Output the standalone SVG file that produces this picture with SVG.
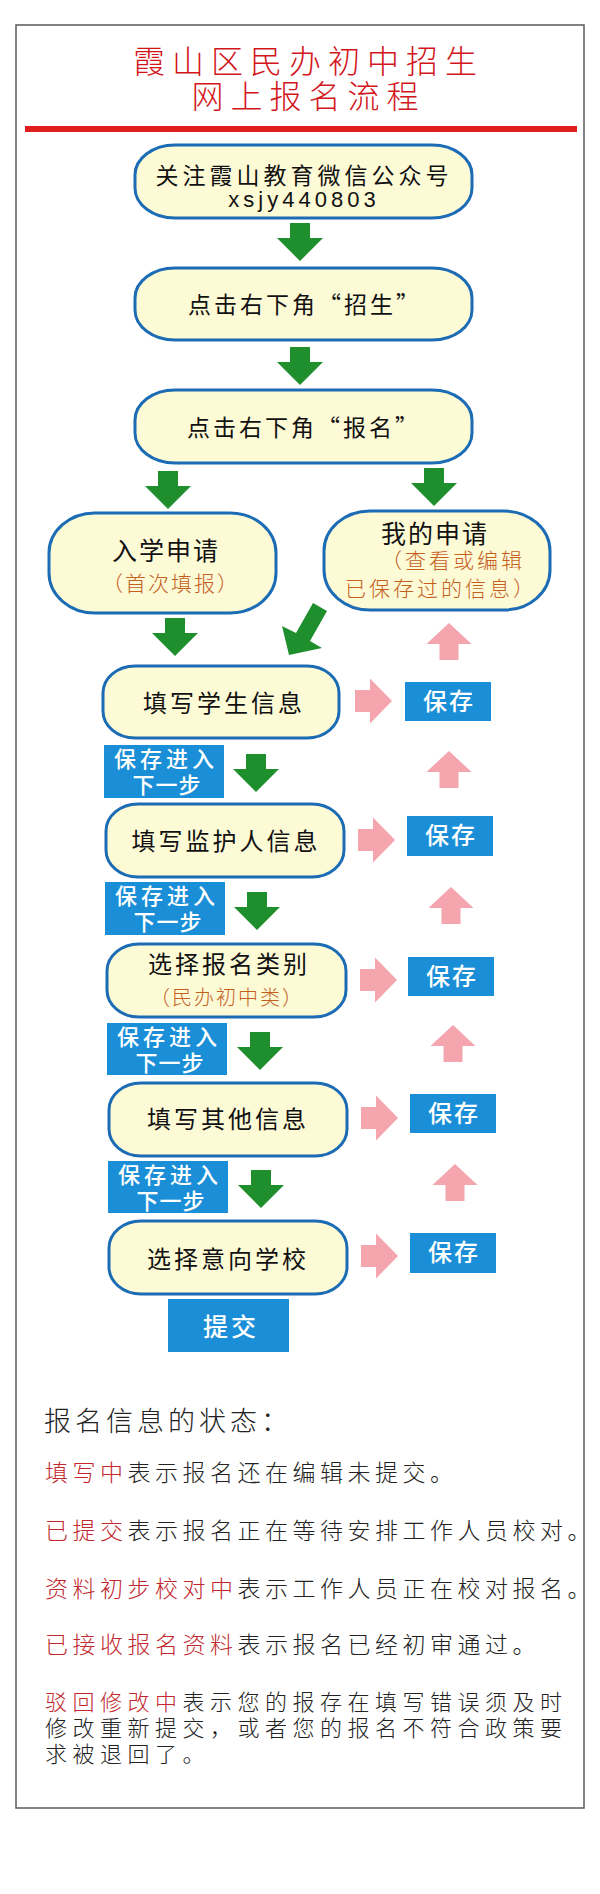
<svg xmlns="http://www.w3.org/2000/svg" xmlns:xlink="http://www.w3.org/1999/xlink" width="600" height="1894" viewBox="0 0 600 1894">
<style>
text{font-family:"Noto Sans CJK SC","Noto Sans",sans-serif}
.node{fill:#fdfad6;stroke:#1b6cb4;stroke-width:3}
.nt{font-size:24px;fill:#111;letter-spacing:3px;text-anchor:middle}
.sub{font-size:21px;fill:#c4601f;letter-spacing:2px;text-anchor:middle;font-weight:300}
.blue{fill:#1a8fd8}
.bt{font-size:24px;fill:#fff;letter-spacing:2px;text-anchor:middle;font-weight:500}
.nx{font-size:22px;fill:#fff;letter-spacing:4px;text-anchor:middle;font-weight:500}
.green{fill:#1f8f2e}
.pink{fill:#f4a5ae}
.st{font-size:23px;fill:#222;letter-spacing:4.5px;font-weight:300}
.st2{font-size:22px;fill:#222;letter-spacing:5.5px;font-weight:300}
.red{fill:#c1272d}
.title{font-size:32px;fill:#d2161c;letter-spacing:7px;text-anchor:middle;font-weight:300}
</style>
<defs>
<path id="gdown" d="M-10,0 H10 V15 H23 L0,38 L-23,15 H-10 Z"/>
<path id="pup" d="M0,0 L22.5,21 H9.5 V37 H-9.5 V21 H-22.5 Z"/>
<path id="pright" d="M0,-11 H15 V-22.5 L37,0 L15,22.5 V11 H0 Z"/>
</defs>
<rect x="0" y="0" width="600" height="1894" fill="#fff"/>
<rect x="16" y="25" width="568" height="1783" fill="#fff" stroke="#5a5a5a" stroke-width="1.5"/>
<g id="title">
<text class="title" x="308.5" y="73">霞山区民办初中招生</text>
<text class="title" x="308.5" y="108">网上报名流程</text>
<rect x="25" y="126" width="552" height="6" fill="#e01e1e"/>
</g>
<g id="connectors">
<use xlink:href="#gdown" class="green" x="300" y="223"/>
<use xlink:href="#gdown" class="green" x="300" y="347"/>
<use xlink:href="#gdown" class="green" x="168" y="471"/>
<use xlink:href="#gdown" class="green" x="434" y="468"/>
<use xlink:href="#gdown" class="green" x="175" y="618"/>
<polygon class="green" points="313,603 327,611 310,641 322,648 289,655 282,626 296,633"/>
<use xlink:href="#gdown" class="green" x="256" y="754"/>
<use xlink:href="#gdown" class="green" x="257" y="892"/>
<use xlink:href="#gdown" class="green" x="260" y="1032"/>
<use xlink:href="#gdown" class="green" x="261" y="1170"/>
<use xlink:href="#pup" class="pink" x="449" y="623"/>
<use xlink:href="#pup" class="pink" x="449" y="751"/>
<use xlink:href="#pup" class="pink" x="451" y="887"/>
<use xlink:href="#pup" class="pink" x="453" y="1025"/>
<use xlink:href="#pup" class="pink" x="455" y="1164"/>
<use xlink:href="#pright" class="pink" x="355" y="701"/>
<use xlink:href="#pright" class="pink" x="358" y="840"/>
<use xlink:href="#pright" class="pink" x="360" y="980"/>
<use xlink:href="#pright" class="pink" x="361" y="1118"/>
<use xlink:href="#pright" class="pink" x="361" y="1256"/>
</g>
<g id="n1">
<rect class="node" x="135" y="145" width="337" height="73" rx="40" ry="30"/>
<text class="nt" x="304" y="184" style="font-size:23px;letter-spacing:4px">关注霞山教育微信公众号</text>
<text x="304" y="207" style="font-family:'Liberation Sans',Arial,sans-serif;font-size:22px;letter-spacing:4px;text-anchor:middle;fill:#111">xsjy440803</text>
</g>
<g id="n2">
<rect class="node" x="135" y="268" width="337" height="72" rx="40" ry="30"/>
<text class="nt" x="305" y="313" style="font-size:23px">点击右下角“招生”</text>
</g>
<g id="n3">
<rect class="node" x="135" y="390" width="337" height="73" rx="40" ry="30"/>
<text class="nt" x="304" y="436" style="font-size:23px">点击右下角“报名”</text>
</g>
<g id="n4">
<rect class="node" x="49" y="513" width="227" height="100" rx="46" ry="40"/>
<text class="nt" x="166" y="560" style="font-size:25px;letter-spacing:2px">入学申请</text>
<text class="sub" x="171" y="591">（首次填报）</text>
</g>
<g id="n5">
<rect class="node" x="324" y="511" width="226" height="99" rx="46" ry="40"/>
<text class="nt" x="435" y="543" style="font-size:25px;letter-spacing:2px">我的申请</text>
<text class="sub" x="453" y="568" style="letter-spacing:3px">（查看或编辑</text>
<text class="sub" x="441" y="596" style="letter-spacing:3px">已保存过的信息）</text>
</g>
<g id="n6">
<rect class="node" x="103" y="666" width="236" height="72" rx="32" ry="27"/>
<text class="nt" x="224" y="712">填写学生信息</text>
</g>
<g id="n7">
<rect class="node" x="106" y="804" width="238" height="73" rx="32" ry="27"/>
<text class="nt" x="226" y="850">填写监护人信息</text>
</g>
<g id="n8">
<rect class="node" x="107" y="944" width="239" height="73" rx="32" ry="27"/>
<text class="nt" x="229" y="973">选择报名类别</text>
<text class="sub" x="227" y="1005" style="font-size:20px">（民办初中类）</text>
</g>
<g id="n9">
<rect class="node" x="109" y="1083" width="238" height="73" rx="32" ry="27"/>
<text class="nt" x="228" y="1128">填写其他信息</text>
</g>
<g id="n10">
<rect class="node" x="109" y="1221" width="238" height="73" rx="32" ry="27"/>
<text class="nt" x="228" y="1268">选择意向学校</text>
</g>
<g id="save1"><rect class="blue" x="405" y="682" width="86" height="39"/><text class="bt" x="449" y="710">保存</text></g>
<g id="save2"><rect class="blue" x="407" y="816" width="86" height="40"/><text class="bt" x="451" y="844">保存</text></g>
<g id="save3"><rect class="blue" x="408" y="957" width="86" height="39"/><text class="bt" x="452" y="985">保存</text></g>
<g id="save4"><rect class="blue" x="410" y="1094" width="86" height="39"/><text class="bt" x="454" y="1122">保存</text></g>
<g id="save5"><rect class="blue" x="410" y="1233" width="86" height="40"/><text class="bt" x="454" y="1261">保存</text></g>
<g id="next1"><rect class="blue" x="104" y="745" width="120" height="53"/><text class="nx" x="166" y="767">保存进入</text><text class="nx" x="167" y="793" style="letter-spacing:1px">下一步</text></g>
<g id="next2"><rect class="blue" x="105" y="882" width="120" height="53"/><text class="nx" x="167" y="904">保存进入</text><text class="nx" x="168" y="930" style="letter-spacing:1px">下一步</text></g>
<g id="next3"><rect class="blue" x="107" y="1023" width="120" height="52"/><text class="nx" x="169" y="1045">保存进入</text><text class="nx" x="170" y="1071" style="letter-spacing:1px">下一步</text></g>
<g id="next4"><rect class="blue" x="108" y="1161" width="120" height="52"/><text class="nx" x="170" y="1183">保存进入</text><text class="nx" x="171" y="1209" style="letter-spacing:1px">下一步</text></g>
<g id="submit"><rect class="blue" x="168" y="1299" width="121" height="53"/><text class="bt" x="231" y="1336" style="font-size:25px;letter-spacing:3px">提交</text></g>
<g id="status">
<text class="st" x="44" y="1431" style="font-size:27px;letter-spacing:4px">报名信息的状态：</text>
<text class="st" x="45" y="1481"><tspan class="red">填写中</tspan>表示报名还在编辑未提交。</text>
<text class="st" x="45" y="1539"><tspan class="red">已提交</tspan>表示报名正在等待安排工作人员校对。</text>
<text class="st" x="45" y="1597"><tspan class="red">资料初步校对中</tspan>表示工作人员正在校对报名。</text>
<text class="st" x="45" y="1653"><tspan class="red">已接收报名资料</tspan>表示报名已经初审通过。</text>
<text class="st2" x="45" y="1710"><tspan class="red">驳回修改中</tspan>表示您的报存在填写错误须及时</text>
<text class="st2" x="45" y="1736">修改重新提交，或者您的报名不符合政策要</text>
<text class="st2" x="45" y="1762">求被退回了。</text>
</g>
</svg>
